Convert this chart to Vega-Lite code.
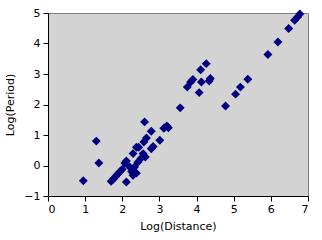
{
  "$schema": "https://vega.github.io/schema/vega-lite/v6.json",
  "autosize": "none",
  "width": 260,
  "height": 183,
  "padding": {"left": 48, "top": 13, "right": 14, "bottom": 44},
  "background": "white",
  "config": {
    "view": {"fill": "#D3D3D3", "stroke": "#808080", "strokeWidth": 1},
    "axis": {
      "grid": false,
      "domainColor": "black",
      "tickColor": "black",
      "labelColor": "black",
      "titleColor": "black",
      "labelFont": "DejaVu Sans",
      "titleFont": "DejaVu Sans",
      "labelFontSize": 11,
      "titleFontSize": 11,
      "titleFontWeight": "normal",
      "tickSize": 5
    }
  },
  "data": {"values": [
    {"d": 0.95, "p": -0.5},
    {"d": 1.30, "p": 0.8},
    {"d": 1.37, "p": 0.08},
    {"d": 1.70, "p": -0.52},
    {"d": 1.76, "p": -0.44},
    {"d": 1.82, "p": -0.36},
    {"d": 1.88, "p": -0.28},
    {"d": 1.94, "p": -0.2},
    {"d": 2.00, "p": -0.12},
    {"d": 2.07, "p": 0.08},
    {"d": 2.11, "p": 0.15},
    {"d": 2.11, "p": -0.54},
    {"d": 2.20, "p": -0.05},
    {"d": 2.25, "p": -0.2},
    {"d": 2.29, "p": -0.32},
    {"d": 2.33, "p": -0.05},
    {"d": 2.38, "p": -0.25},
    {"d": 2.29, "p": 0.39},
    {"d": 2.38, "p": 0.6},
    {"d": 2.42, "p": 0.11},
    {"d": 2.50, "p": 0.23},
    {"d": 2.56, "p": 0.39},
    {"d": 2.62, "p": 0.28},
    {"d": 2.44, "p": 0.6},
    {"d": 2.58, "p": 0.77},
    {"d": 2.65, "p": 0.9},
    {"d": 2.60, "p": 1.43},
    {"d": 2.78, "p": 1.12},
    {"d": 2.78, "p": 0.55},
    {"d": 2.83, "p": 0.62},
    {"d": 3.01, "p": 0.83},
    {"d": 3.12, "p": 1.22},
    {"d": 3.20, "p": 1.3},
    {"d": 3.24, "p": 1.24},
    {"d": 3.56, "p": 1.89},
    {"d": 3.75, "p": 2.57},
    {"d": 3.84, "p": 2.74},
    {"d": 3.90, "p": 2.82},
    {"d": 4.07, "p": 2.39},
    {"d": 4.11, "p": 3.14},
    {"d": 4.13, "p": 2.74},
    {"d": 4.26, "p": 3.34},
    {"d": 4.34, "p": 2.77},
    {"d": 4.37, "p": 2.85},
    {"d": 4.78, "p": 1.95},
    {"d": 5.05, "p": 2.34},
    {"d": 5.18, "p": 2.57},
    {"d": 5.38, "p": 2.83},
    {"d": 5.92, "p": 3.64},
    {"d": 6.19, "p": 4.05},
    {"d": 6.48, "p": 4.49},
    {"d": 6.64, "p": 4.76},
    {"d": 6.72, "p": 4.87},
    {"d": 6.78, "p": 4.97}
  ]},
  "mark": {"type": "point", "shape": "diamond", "filled": true, "color": "#000080", "size": 80, "opacity": 1},
  "encoding": {
    "x": {"field": "d", "type": "quantitative", "title": "Log(Distance)",
          "scale": {"domain": [0, 7], "nice": false, "zero": false},
          "axis": {"values": [0,1,2,3,4,5,6,7], "titlePadding": 6, "labelPadding": 2}},
    "y": {"field": "p", "type": "quantitative", "title": "Log(Period)",
          "scale": {"domain": [-1, 5], "nice": false, "zero": false},
          "axis": {"values": [-1,0,1,2,3,4,5], "titlePadding": 8, "labelPadding": 3}}
  }
}
